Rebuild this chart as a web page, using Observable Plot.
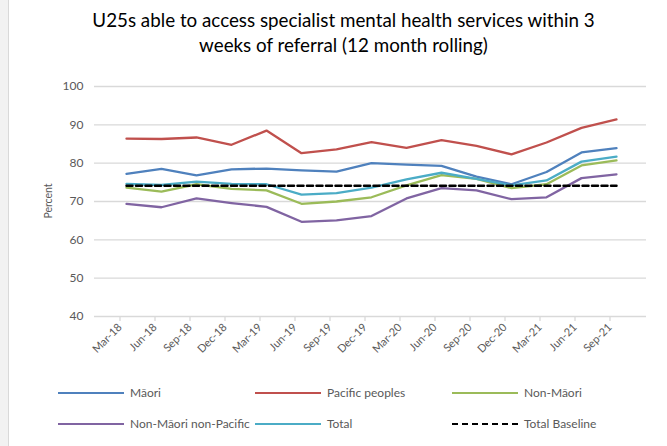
<!DOCTYPE html>
<html>
<head>
<meta charset="utf-8">
<script src="https://cdn.jsdelivr.net/npm/d3@7"></script>
<script src="https://cdn.jsdelivr.net/npm/@observablehq/plot@0.6"></script>
<style>
  html, body { margin: 0; padding: 0; background: #fff; }
  #wrap { position: relative; width: 667px; height: 446px; overflow: hidden; background: #fff; font-family: Lato, "Open Sans", sans-serif; }
  #strip { position: absolute; left: 0; top: 0; width: 8px; height: 446px; background: #f2f2f2; border-right: 1px solid #d9d9d9; }
  #title { position: absolute; left: 10px; top: 7px; width: 667px; text-align: center; font-size: 18.8px; line-height: 25px; color: #000; }
  #chart { position: absolute; left: 0; top: 70px; }
  #ylab { position: absolute; left: 48px; top: 201px; transform: translate(-50%, -50%) rotate(-90deg); font-size: 10.5px; color: #595959; }
  .leg { position: absolute; font-size: 12px; color: #595959; white-space: nowrap; }
  .sw { position: absolute; width: 66px; height: 0; }
</style>
</head>
<body>
<div id="wrap">
  <div id="strip"></div>
  <div id="title">U25s able to access specialist mental health services within 3<br>weeks of referral (12 month rolling)</div>
  <div id="chart"></div>
  <div id="ylab">Percent</div>
  <div id="legend"></div>
</div>
<script>
const quarters = ["Mar-18","Jun-18","Sep-18","Dec-18","Mar-19","Jun-19","Sep-19","Dec-19","Mar-20","Jun-20","Sep-20","Dec-20","Mar-21","Jun-21","Sep-21"];
const maori = [77.2,78.5,76.8,78.4,78.6,78.1,77.8,80.0,79.6,79.3,76.5,74.5,77.7,82.8,83.9];
const pacific = [86.4,86.3,86.7,84.8,88.5,82.6,83.6,85.5,84.0,86.0,84.5,82.3,85.4,89.2,91.4];
const nonMaori = [73.6,72.6,74.5,73.3,72.9,69.4,70.0,71.1,74.2,76.9,75.9,73.5,74.5,79.4,80.7];
const nonMaoriNonPacific = [69.4,68.5,70.8,69.6,68.6,64.7,65.1,66.2,70.8,73.5,72.9,70.6,71.1,76.1,77.1];
const total = [74.6,74.3,75.2,74.6,74.5,71.8,72.2,73.6,75.8,77.5,75.9,74.2,75.5,80.4,81.7];
const totalBaseline = 74.1;
const yTicks = [40,50,60,70,80,90,100];

const seriesNames = ["Māori","Pacific peoples","Non-Māori","Non-Māori non-Pacific","Total","Total Baseline"];
const colors = ["#4f81bd","#c0504d","#9bbb59","#8064a2","#4bacc6","#000000"];
const seriesValues = [maori, pacific, nonMaori, nonMaoriNonPacific, total];

const rows = [];
seriesValues.forEach((vals, i) => vals.forEach((v, j) => rows.push({series: seriesNames[i], q: quarters[j], v})));
const baseRows = quarters.map(q => ({series: "Total Baseline", q, v: totalBaseline}));

const chart = Plot.plot({
  width: 667,
  height: 300,
  marginLeft: 94,
  marginRight: 21,
  marginTop: 16,
  marginBottom: 54,
  style: {fontFamily: "Lato, 'Open Sans', sans-serif", fontSize: "11px", color: "#595959", background: "transparent"},
  x: {type: "point", domain: quarters, insetLeft: 7, insetRight: 6},
  y: {domain: [40, 100]},
  color: {domain: seriesNames, range: colors},
  marks: [
    Plot.gridY(yTicks, {stroke: "#d9d9d9", strokeOpacity: 1, strokeWidth: 1.3}),
    Plot.axisY(yTicks, {tickSize: 0, tickPadding: 11, label: null, fill: "#595959", fontSize: 12}),
    Plot.axisX(quarters, {dx: -6.5, tickSize: 5, tickPadding: 4, tickRotate: -45, label: null, stroke: "#d9d9d9", strokeWidth: 1.3, fill: "#595959", fontSize: 11}),
    Plot.line(rows, {x: "q", y: "v", z: "series", stroke: "series", strokeWidth: 2.3}),
    Plot.line(baseRows, {x: "q", y: "v", stroke: "#000", strokeWidth: 2.5, strokeDasharray: "6,3.5"})
  ]
});
document.getElementById("chart").appendChild(chart);

// legend
const legPos = [[58,393],[255,393],[452,393],[58,424],[255,424],[452,424]];
const legend = document.getElementById("legend");
seriesNames.forEach((name, i) => {
  const [x, y] = legPos[i];
  const sw = document.createElement("div");
  sw.className = "sw";
  sw.style.left = x + "px";
  sw.style.top = (y - 1) + "px";
  sw.style.borderTop = i === 5 ? "2.5px dashed #000" : `2.5px solid ${colors[i]}`;
  legend.appendChild(sw);
  const t = document.createElement("div");
  t.className = "leg";
  t.textContent = name;
  t.style.left = (x + 72) + "px";
  t.style.top = (y - 8) + "px";
  legend.appendChild(t);
});
</script>
</body>
</html>
